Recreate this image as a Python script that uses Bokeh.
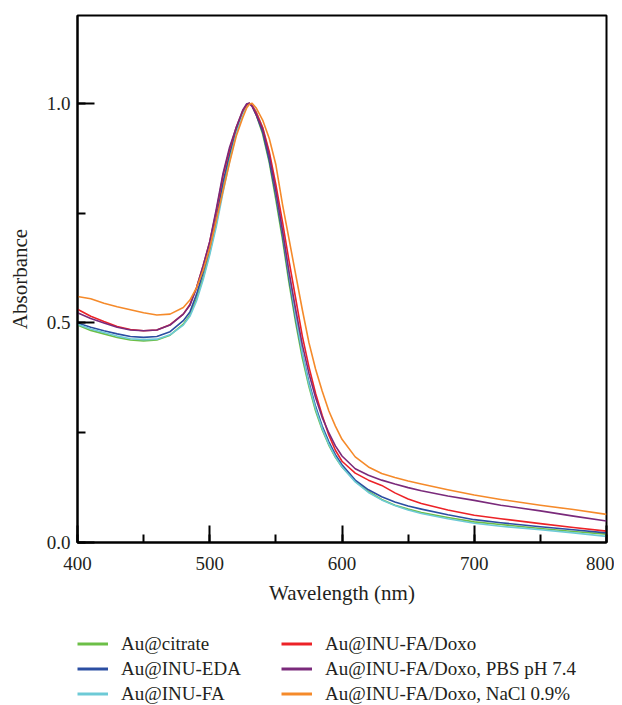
from bokeh.plotting import figure
from bokeh.layouts import column
from bokeh.models import Legend, LegendItem, SingleIntervalTicker, Range1d, PrintfTickFormatter
from bokeh.embed import file_html
from bokeh.resources import INLINE

wavelength = [400, 410, 420, 430, 440, 450, 460, 470, 480, 485, 490, 495, 500, 505, 510, 515,
              520, 525, 528, 530, 532, 535, 540, 545, 550, 555, 560, 565, 570, 575, 580, 585, 590, 595,
              600, 610, 620, 630, 640, 650, 660, 680, 700, 720, 750, 775, 800]

au_citrate = [0.495, 0.483, 0.475, 0.467, 0.461, 0.459, 0.461, 0.472, 0.497, 0.518, 0.555, 0.603,
              0.660, 0.727, 0.805, 0.875, 0.935, 0.978, 0.996, 1.000, 0.995, 0.975, 0.930, 0.865,
              0.780, 0.690, 0.590, 0.500, 0.420, 0.355, 0.300, 0.257, 0.222, 0.194, 0.172, 0.140,
              0.116, 0.098, 0.085, 0.076, 0.068, 0.057, 0.047, 0.041, 0.032, 0.025, 0.019]

au_inu_eda = [0.500, 0.490, 0.482, 0.475, 0.469, 0.467, 0.469, 0.480, 0.505, 0.525, 0.565, 0.615,
              0.670, 0.740, 0.820, 0.885, 0.940, 0.980, 0.997, 1.000, 0.995, 0.975, 0.935, 0.870,
              0.790, 0.700, 0.600, 0.510, 0.430, 0.365, 0.310, 0.265, 0.230, 0.200, 0.177, 0.142,
              0.120, 0.104, 0.092, 0.083, 0.076, 0.063, 0.052, 0.045, 0.036, 0.029, 0.022]

au_inu_fa = [0.497, 0.486, 0.478, 0.470, 0.464, 0.462, 0.463, 0.473, 0.495, 0.515, 0.550, 0.598,
             0.655, 0.720, 0.797, 0.868, 0.930, 0.975, 0.995, 1.000, 0.996, 0.982, 0.945, 0.885,
             0.800, 0.710, 0.610, 0.515, 0.430, 0.360, 0.305, 0.260, 0.224, 0.195, 0.172, 0.138,
             0.114, 0.097, 0.084, 0.074, 0.066, 0.054, 0.044, 0.037, 0.029, 0.022, 0.014]

au_fa_doxo = [0.531, 0.515, 0.503, 0.492, 0.485, 0.482, 0.484, 0.496, 0.520, 0.542, 0.580, 0.630,
              0.685, 0.755, 0.835, 0.895, 0.945, 0.983, 0.997, 1.000, 0.995, 0.980, 0.945, 0.890,
              0.815, 0.730, 0.640, 0.555, 0.470, 0.400, 0.340, 0.290, 0.245, 0.210, 0.185, 0.158,
              0.142, 0.130, 0.113, 0.099, 0.089, 0.074, 0.062, 0.054, 0.043, 0.034, 0.026]

au_fa_doxo_pbs = [0.523, 0.510, 0.500, 0.490, 0.484, 0.482, 0.484, 0.495, 0.520, 0.540, 0.580, 0.630,
                  0.685, 0.760, 0.840, 0.900, 0.945, 0.985, 0.999, 1.000, 0.993, 0.975, 0.940, 0.880,
                  0.800, 0.710, 0.615, 0.530, 0.450, 0.385, 0.330, 0.285, 0.250, 0.220, 0.197, 0.168,
                  0.153, 0.142, 0.133, 0.125, 0.118, 0.106, 0.096, 0.085, 0.072, 0.060, 0.049]

au_fa_doxo_nacl = [0.560, 0.555, 0.545, 0.537, 0.530, 0.523, 0.518, 0.520, 0.535, 0.552, 0.580, 0.620,
                   0.670, 0.735, 0.800, 0.865, 0.925, 0.968, 0.990, 0.998, 1.000, 0.990, 0.962, 0.920,
                   0.860, 0.770, 0.690, 0.610, 0.530, 0.455, 0.395, 0.345, 0.300, 0.265, 0.235, 0.195,
                   0.172, 0.157, 0.148, 0.140, 0.133, 0.120, 0.108, 0.098, 0.085, 0.075, 0.064]

series_names = ["Au@citrate", "Au@INU-EDA", "Au@INU-FA",
                "Au@INU-FA/Doxo", "Au@INU-FA/Doxo, PBS pH 7.4", "Au@INU-FA/Doxo, NaCl 0.9%"]
series_values = [au_citrate, au_inu_eda, au_inu_fa, au_fa_doxo, au_fa_doxo_pbs, au_fa_doxo_nacl]
series_colors = ["#6cbf47", "#2b4ea2", "#6dcad6", "#ec2227", "#7a2a7b", "#f58a2a"]

FONT = "Liberation Serif"
TXT = "#231f20"

p = figure(width=614, height=612, x_range=Range1d(400, 800), y_range=Range1d(0, 1.2),
           output_backend="svg", toolbar_location=None,
           min_border_left=77, min_border_right=8, min_border_top=15, min_border_bottom=70)

p.xgrid.visible = False
p.ygrid.visible = False
p.outline_line_color = "black"
p.outline_line_width = 2
p.background_fill_color = "white"
p.border_fill_color = "white"

p.xaxis.ticker = SingleIntervalTicker(interval=100, num_minor_ticks=2)
p.yaxis.ticker = SingleIntervalTicker(interval=0.5, num_minor_ticks=2)
p.yaxis.formatter = PrintfTickFormatter(format="%.1f")

for ax in (p.xaxis[0], p.yaxis[0]):
    ax.axis_line_width = 2
    ax.axis_line_color = "black"
    ax.major_tick_in = 17
    ax.major_tick_out = 0
    ax.minor_tick_in = 8
    ax.minor_tick_out = 0
    ax.major_tick_line_width = 2
    ax.minor_tick_line_width = 2
    ax.major_tick_line_color = "black"
    ax.minor_tick_line_color = "black"
    ax.major_label_text_font = FONT
    ax.major_label_text_font_size = "19px"
    ax.major_label_text_color = TXT
    ax.axis_label_text_font = FONT
    ax.axis_label_text_font_size = "21px"
    ax.axis_label_text_font_style = "normal"
    ax.axis_label_text_color = TXT

p.xaxis.axis_label = "Wavelength (nm)"
p.yaxis.axis_label = "Absorbance"
p.xaxis.major_label_standoff = 14
p.xaxis.axis_label_standoff = 8
p.yaxis.major_label_standoff = 7
p.yaxis.axis_label_standoff = 12

for vals, col in zip(series_values, series_colors):
    p.line(wavelength, vals, line_color=col, line_width=1.6, line_join="round")

# legend strip below the chart (a second, axis-less figure; its lines fall outside its view)
lg = figure(width=614, height=93, x_range=Range1d(0, 1), y_range=Range1d(0, 1),
            output_backend="svg", toolbar_location=None, min_border=0,
            x_axis_location=None, y_axis_location=None)
lg.xgrid.visible = False
lg.ygrid.visible = False
lg.outline_line_color = None
lg.background_fill_color = "white"
lg.border_fill_color = "white"

items = []
for name, vals, col in zip(series_names, series_values, series_colors):
    r = lg.line(wavelength, vals, line_color=col, line_width=3)
    items.append(LegendItem(label=name, renderers=[r]))

legend = Legend(items=items, ncols=2, location=(0, 0),
                label_text_font=FONT, label_text_font_size="19px", label_text_color=TXT,
                glyph_width=31, glyph_height=23, label_height=23, label_standoff=13,
                label_width=158, spacing=2, padding=0, margin=0,
                border_line_color=None, background_fill_alpha=0)
lg.add_layout(legend, "center")

layout = column(p, lg, spacing=0)
open("out.html", "w").write(file_html(layout, INLINE))
